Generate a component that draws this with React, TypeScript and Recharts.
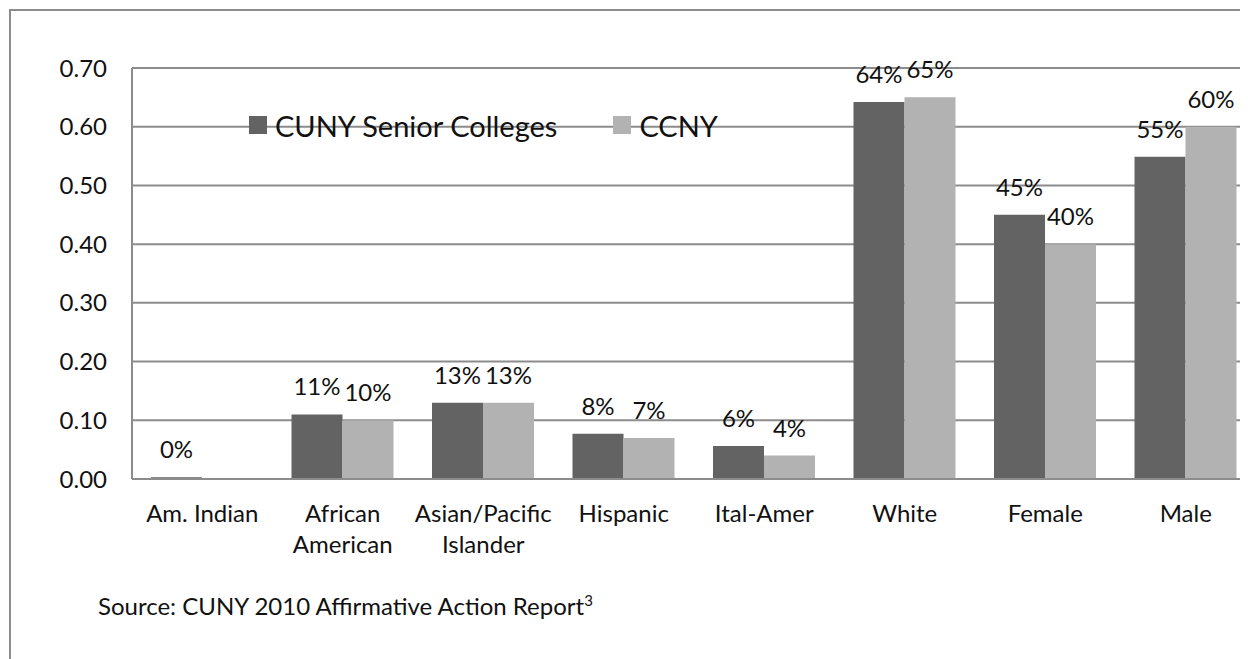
import React from 'react';
import { BarChart, Bar, XAxis, YAxis, CartesianGrid, Legend, LabelList } from 'recharts';

const categories = ['Am. Indian', 'African American', 'Asian/Pacific Islander', 'Hispanic', 'Ital-Amer', 'White', 'Female', 'Male'];
const seniorColleges = [0.003, 0.11, 0.13, 0.077, 0.056, 0.642, 0.45, 0.549];
const ccny = [null, 0.1, 0.13, 0.07, 0.04, 0.65, 0.4, 0.6];
const yTicks = [0, 0.1, 0.2, 0.3, 0.4, 0.5, 0.6, 0.7];
const seriesNames = ['CUNY Senior Colleges', 'CCNY'];

const data = categories.map((c, i) => ({ name: c, senior: seniorColleges[i], ccny: ccny[i] }));

const FONT = 'Lato, "Open Sans", sans-serif';
const DARK = '#636363';
const LIGHT = '#b2b2b2';
const GRID = '#8c8c8c';

const pct = (v: any) => (v === null || v === undefined ? '' : `${Math.round(v * 100)}%`);

const wrapLabel = (s: string, maxChars: number) => {
  const words = s.split(' ');
  const lines: string[] = [];
  let cur = '';
  words.forEach((w) => {
    const next = cur ? `${cur} ${w}` : w;
    if (cur && next.length > maxChars) {
      lines.push(cur);
      cur = w;
    } else {
      cur = next;
    }
  });
  if (cur) lines.push(cur);
  return lines;
};

const XTick = (props: any) => {
  const { x, y, payload } = props;
  const lines = wrapLabel(String(payload.value), 12);
  return (
    <text x={x} y={y} textAnchor="middle" style={{ fontFamily: FONT, fontSize: 24, fill: '#111' }}>
      {lines.map((l, i) => (
        <tspan key={i} x={x} dy={i === 0 ? 17 : 31}>{l}</tspan>
      ))}
    </text>
  );
};

const LegendContent = (props: any) => {
  const payload = [...(props.payload || [])].sort(
    (a: any, b: any) => seriesNames.indexOf(a.value) - seriesNames.indexOf(b.value)
  );
  return (
    <div style={{ display: 'flex', alignItems: 'center', fontFamily: FONT, fontSize: 29, color: '#111', height: 36, whiteSpace: 'nowrap' }}>
      {payload.map((p: any, i: number) => (
        <div key={i} style={{ display: 'flex', alignItems: 'center', marginRight: i === 0 ? 56 : 0 }}>
          <div style={{ width: 18, height: 18, background: p.color, marginRight: 8 }} />
          <span>{p.value}</span>
        </div>
      ))}
    </div>
  );
};

export default function App() {
  return (
    <div style={{ position: 'relative', width: 1240, height: 651, overflow: 'hidden', background: '#fff' }}>
      <style>{'html, body { overflow: hidden; }'}</style>
      <div style={{ position: 'absolute', left: 1, top: 1, width: 1239, height: 650, borderLeft: `2px solid ${GRID}`, borderTop: `2px solid ${GRID}`, boxSizing: 'border-box' }} />
      <div style={{ position: 'absolute', left: 0, top: 0 }}>
        <BarChart width={1270} height={651} data={data} margin={{ top: 60, right: 22, left: 0, bottom: 120 }} barGap={0} barSize={51}>
          <CartesianGrid vertical={false} stroke={GRID} strokeWidth={2} />
          <XAxis dataKey="name" interval={0} height={60} tickLine={false} tickSize={0} tickMargin={26}
            axisLine={{ stroke: GRID, strokeWidth: 2 }} tick={<XTick />} />
          <YAxis width={124} domain={[0, 0.7]} ticks={yTicks} tickFormatter={(v: number) => v.toFixed(2)}
            tickLine={false} tickSize={0} tickMargin={25} axisLine={{ stroke: GRID, strokeWidth: 2 }}
            tick={{ fontFamily: FONT, fontSize: 24, fill: '#111' }} />
          <Legend layout="horizontal" verticalAlign="middle" align="center"
            wrapperStyle={{ left: 241, top: 99, width: 'auto' }} content={<LegendContent />} />
          <Bar dataKey="senior" name={seriesNames[0]} fill={DARK} isAnimationActive={false}>
            <LabelList dataKey="senior" position="top" offset={19} formatter={pct}
              style={{ fontFamily: FONT, fontSize: 24, fill: '#111' }} />
          </Bar>
          <Bar dataKey="ccny" name={seriesNames[1]} fill={LIGHT} isAnimationActive={false}>
            <LabelList dataKey="ccny" position="top" offset={19} formatter={pct}
              style={{ fontFamily: FONT, fontSize: 24, fill: '#111' }} />
          </Bar>
        </BarChart>
      </div>
      <div style={{ position: 'absolute', left: 90, top: 577, fontFamily: FONT, fontSize: 24, color: '#111', whiteSpace: 'nowrap', lineHeight: '30px' }}>
        Source: CUNY 2010 Affirmative Action Report<sup style={{ fontSize: 15 }}>3</sup>
      </div>
    </div>
  );
}
